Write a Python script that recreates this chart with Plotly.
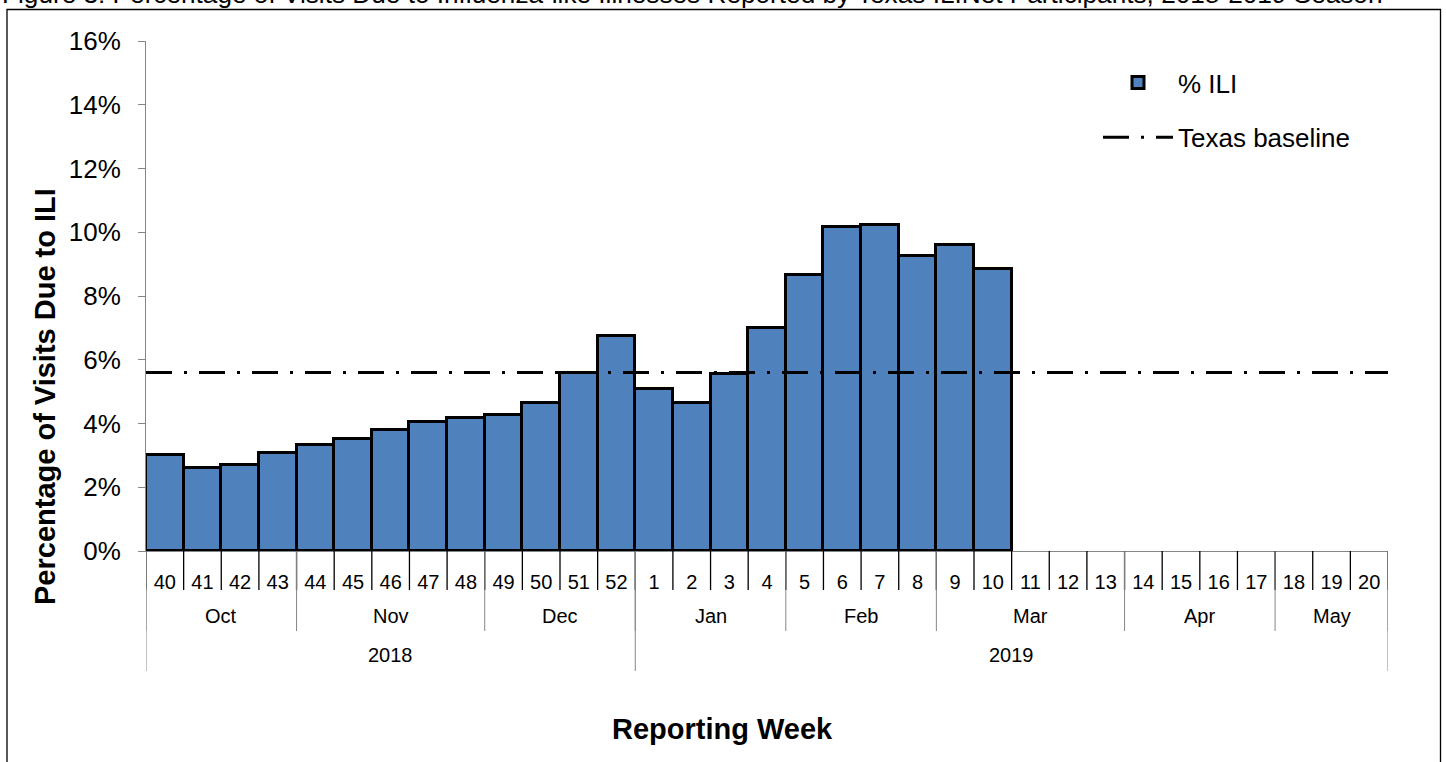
import plotly.graph_objects as go
import numpy as np

# ---------------- data ----------------
weeks = [str(w) for w in range(40, 53)] + [str(w) for w in range(1, 21)]
ili_pct = [3.02, 2.60, 2.71, 3.06, 3.31, 3.50, 3.80, 4.06, 4.16, 4.28, 4.64, 5.58, 6.75,
           5.07, 4.64, 5.54, 7.01, 8.66, 10.15, 10.24, 9.25, 9.60, 8.86]
ili_pct = ili_pct + [None] * (len(weeks) - len(ili_pct))
texas_baseline = 5.6

months = ["Oct", "Nov", "Dec", "Jan", "Feb", "Mar", "Apr", "May"]
month_weeks = [4, 5, 4, 4, 4, 5, 4, 3]
years = ["2018", "2019"]
year_weeks = [13, 20]

y_ticks = [0, 2, 4, 6, 8, 10, 12, 14, 16]
y_ticktext = [f"{v}%" for v in y_ticks]

title_text = ("Figure 3: Percentage of Visits Due to Influenza-like Illnesses "
              "Reported by Texas ILINet Participants, 2018-2019 Season")

# ---------------- layout constants ----------------
W, H = 1446, 762
L, R, T, B = 146, 58, 41, 211
pw, ph = W - L - R, H - T - B


def px_x(x):
    return (x - L) / pw


def px_y(y):
    return (H - B - y) / ph


FONT = "Liberation Sans, Arial, sans-serif"
BAR_COLOR = "#4F81BD"
GRAY = "#868686"

fig = go.Figure()
fig.add_trace(go.Bar(
    x=weeks, y=ili_pct, name="% ILI", legendgroup="ili",
    marker=dict(color=BAR_COLOR, line=dict(color="black", width=3)),
    showlegend=True,
))

shapes = []
# Texas baseline (dash-dot across the whole plot)
shapes.append(dict(
    type="line", xref="paper", yref="y", x0=0, x1=1, y0=texas_baseline, y1=texas_baseline,
    line=dict(color="black", width=3, dash="26px,12px,3px,12px"),
    showlegend=True, name="Texas baseline", legendgroup="base", layer="above",
))

# week separators
y_week = px_y(590)
y_month = px_y(631)
y_year = px_y(671)
for i in range(len(weeks) + 1):
    shapes.append(dict(type="line", xref="x", yref="paper", x0=i - 0.5, x1=i - 0.5,
                       y0=0, y1=y_week, line=dict(color="black", width=1.3)))
# month separators and labels
annotations = []
b = np.concatenate([[0], np.cumsum(month_weeks)])
for k, m in enumerate(months):
    shapes.append(dict(type="line", xref="x", yref="paper", x0=b[k] - 0.5, x1=b[k] - 0.5,
                       y0=0, y1=y_month, line=dict(color=GRAY, width=1)))
    annotations.append(dict(x=(b[k] + b[k + 1]) / 2 - 0.5, y=px_y(616), xref="x", yref="paper",
                            xanchor="center", yanchor="middle",
                            text=m, showarrow=False, font=dict(size=20, color="black", family=FONT)))
shapes.append(dict(type="line", xref="x", yref="paper", x0=b[-1] - 0.5, x1=b[-1] - 0.5,
                   y0=0, y1=y_month, line=dict(color=GRAY, width=1)))
# year separators and labels
yb = np.concatenate([[0], np.cumsum(year_weeks)])
for k, yr in enumerate(years):
    shapes.append(dict(type="line", xref="x", yref="paper", x0=yb[k] - 0.5, x1=yb[k] - 0.5,
                       y0=0, y1=y_year, line=dict(color=GRAY, width=1)))
    annotations.append(dict(x=(yb[k] + yb[k + 1]) / 2 - 0.5, y=px_y(655), xref="x", yref="paper",
                            xanchor="center", yanchor="middle",
                            text=yr, showarrow=False, font=dict(size=20, color="black", family=FONT)))
shapes.append(dict(type="line", xref="x", yref="paper", x0=yb[-1] - 0.5, x1=yb[-1] - 0.5,
                   y0=0, y1=y_year, line=dict(color=GRAY, width=1)))

# outer chart border
shapes.append(dict(type="rect", xref="paper", yref="paper",
                   x0=px_x(7), x1=px_x(1440.5), y0=px_y(800), y1=px_y(9.5),
                   line=dict(color="black", width=1.3), fillcolor="rgba(0,0,0,0)", layer="below"))

# axis titles and figure title
annotations.append(dict(x=px_x(45), y=px_y(397), xref="paper", yref="paper", textangle=-90,
                        xanchor="center", yanchor="middle",
                        text="<b>Percentage of Visits Due to ILI</b>", showarrow=False,
                        font=dict(size=29, color="black", family=FONT)))
annotations.append(dict(x=px_x(722), y=px_y(729), xref="paper", yref="paper",
                        xanchor="center", yanchor="middle",
                        text="<b>Reporting Week</b>", showarrow=False,
                        font=dict(size=29, color="black", family=FONT)))
annotations.append(dict(x=px_x(0), y=px_y(-6), xref="paper", yref="paper", xanchor="left",
                        yanchor="middle", text=title_text, showarrow=False,
                        font=dict(size=26.2, color="black", family=FONT)))

fig.update_layout(
    width=W, height=H,
    margin=dict(l=L, r=R, t=T, b=B, pad=0),
    paper_bgcolor="white", plot_bgcolor="white",
    font=dict(family=FONT, color="black"),
    bargap=0,
    shapes=shapes,
    annotations=annotations,
    showlegend=True,
    legend=dict(x=px_x(1098), y=px_y(59), xanchor="left", yanchor="top",
                font=dict(size=26, family=FONT, color="black"),
                itemwidth=70, traceorder="grouped", tracegroupgap=18,
                bgcolor="rgba(0,0,0,0)"),
    xaxis=dict(type="category", categoryorder="array", categoryarray=weeks,
               range=[-0.5, len(weeks) - 0.5],
               showline=True, linecolor=GRAY, linewidth=1, ticks="",
               tickfont=dict(size=20, color="black", family=FONT),
               showgrid=False, zeroline=False, ticklabelstandoff=13),
    yaxis=dict(range=[0, 16], tickvals=y_ticks, ticktext=y_ticktext,
               showline=True, linecolor=GRAY, linewidth=1,
               ticks="outside", ticklen=7, tickcolor=GRAY,
               tickfont=dict(size=26, color="black", family=FONT),
               showgrid=False, zeroline=False, ticklabelstandoff=12),
)

fig.write_html("out.html", config={"displayModeBar": False},
               post_script="document.body.style.margin='0';")
